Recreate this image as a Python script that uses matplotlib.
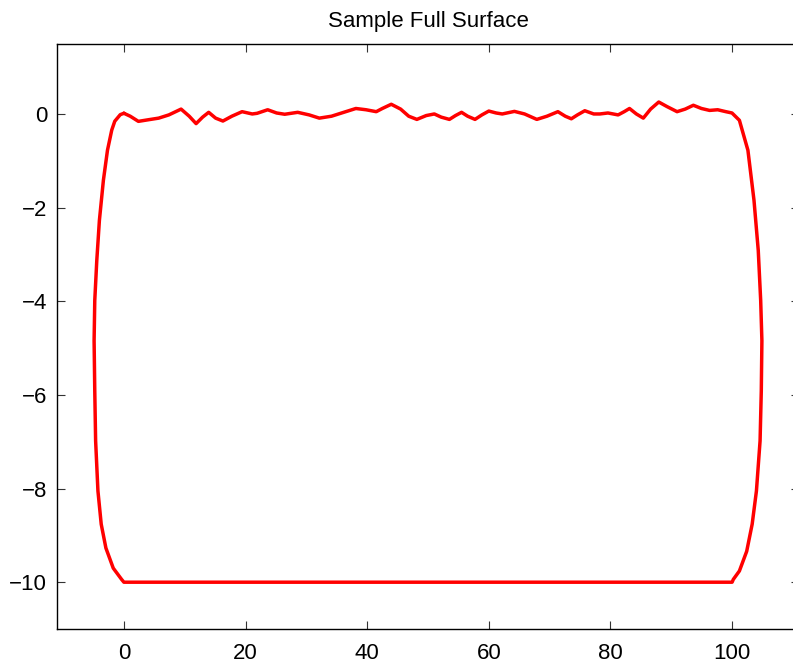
import numpy as np
import matplotlib
matplotlib.use("Agg")
import matplotlib.pyplot as plt

# wavy top surface (x, depth)
top_x = [0.0, 1.04, 2.38, 4.05, 5.72, 7.39, 9.40, 10.74, 11.87, 12.94, 13.94,
         15.08, 16.28, 17.75, 19.43, 21.10, 21.90, 23.64, 25.11, 26.44, 28.58,
         30.46, 32.13, 34.13, 36.14, 38.14, 39.81, 41.49, 42.49, 43.96, 45.50,
         46.83, 48.17, 49.71, 51.04, 52.18, 53.52, 54.52, 55.52, 56.52, 57.73,
         58.86, 60.00, 61.20, 62.21, 64.21, 65.88, 67.89, 69.56, 71.36, 72.57,
         73.57, 74.57, 75.78, 77.25, 78.25, 79.59, 81.26, 82.26, 83.13, 84.26,
         85.40, 86.60, 87.94, 89.28, 90.95, 92.29, 93.63, 94.96, 96.30, 97.63,
         98.97, 99.98]
top_y = [0.02, -0.043, -0.153, -0.118, -0.084, -0.015, 0.109, -0.043, -0.201,
         -0.063, 0.040, -0.084, -0.146, -0.043, 0.054, 0.005, 0.019, 0.095,
         0.026, -0.001, 0.040, -0.015, -0.084, -0.043, 0.040, 0.122, 0.095,
         0.054, 0.122, 0.212, 0.109, -0.043, -0.111, -0.029, 0.005, -0.063,
         -0.111, -0.029, 0.040, -0.043, -0.111, -0.015, 0.067, 0.026, 0.005,
         0.060, 0.005, -0.111, -0.043, 0.054, -0.043, -0.098, -0.015, 0.074,
         0.005, 0.005, 0.026, -0.015, 0.054, 0.122, 0.005, -0.084, 0.109,
         0.260, 0.164, 0.054, 0.109, 0.191, 0.122, 0.081, 0.095, 0.054, 0.026]

# right wall, top to bottom
right_x = [101.2, 102.6, 103.6, 104.3, 104.7, 104.9, 104.8, 104.6, 104.0,
           103.3, 102.4, 101.2, 100.2, 100.0]
right_y = [-0.13, -0.77, -1.84, -2.91, -3.98, -4.84, -5.91, -6.98, -8.05,
           -8.76, -9.34, -9.76, -9.94, -10.0]

# bottom flat
bottom_x = [0.0]
bottom_y = [-10.0]

# left wall, bottom to top
left_x = [-0.38, -1.75, -2.96, -3.73, -4.27, -4.65, -4.79, -4.90, -4.79,
          -4.46, -4.03, -3.37, -2.70, -2.0, -1.5, -0.6, 0.0]
left_y = [-9.94, -9.70, -9.27, -8.76, -8.05, -6.98, -5.91, -4.84, -3.98,
          -3.13, -2.27, -1.41, -0.77, -0.34, -0.15, -0.01, 0.02]

xs = top_x + right_x + bottom_x + left_x
ys = top_y + right_y + bottom_y + left_y

plt.rcParams['font.family'] = ['Liberation Sans', 'DejaVu Sans']

fig = plt.figure(figsize=(7.93, 6.63), dpi=100)
ax = fig.add_axes([57 / 793, 34 / 663, 742 / 793, 585 / 663])
ax.plot(xs, ys, color='red', linewidth=2.5, solid_joinstyle='round',
        solid_capstyle='round')

ax.set_xlim(-11, 111)
ax.set_ylim(-11, 1.5)
ax.set_xticks([0, 20, 40, 60, 80, 100])
ax.set_yticks([-10, -8, -6, -4, -2, 0])
ax.tick_params(direction='in', length=6, width=0.8, color='#333333',
               top=True, right=True, labelsize=16)
ax.tick_params(axis='x', pad=10)
ax.tick_params(axis='y', pad=7)
for s in ax.spines.values():
    s.set_linewidth(1.0)
ax.set_title('Sample Full Surface', fontsize=16, pad=12)

fig.savefig('out.png', dpi=100)
